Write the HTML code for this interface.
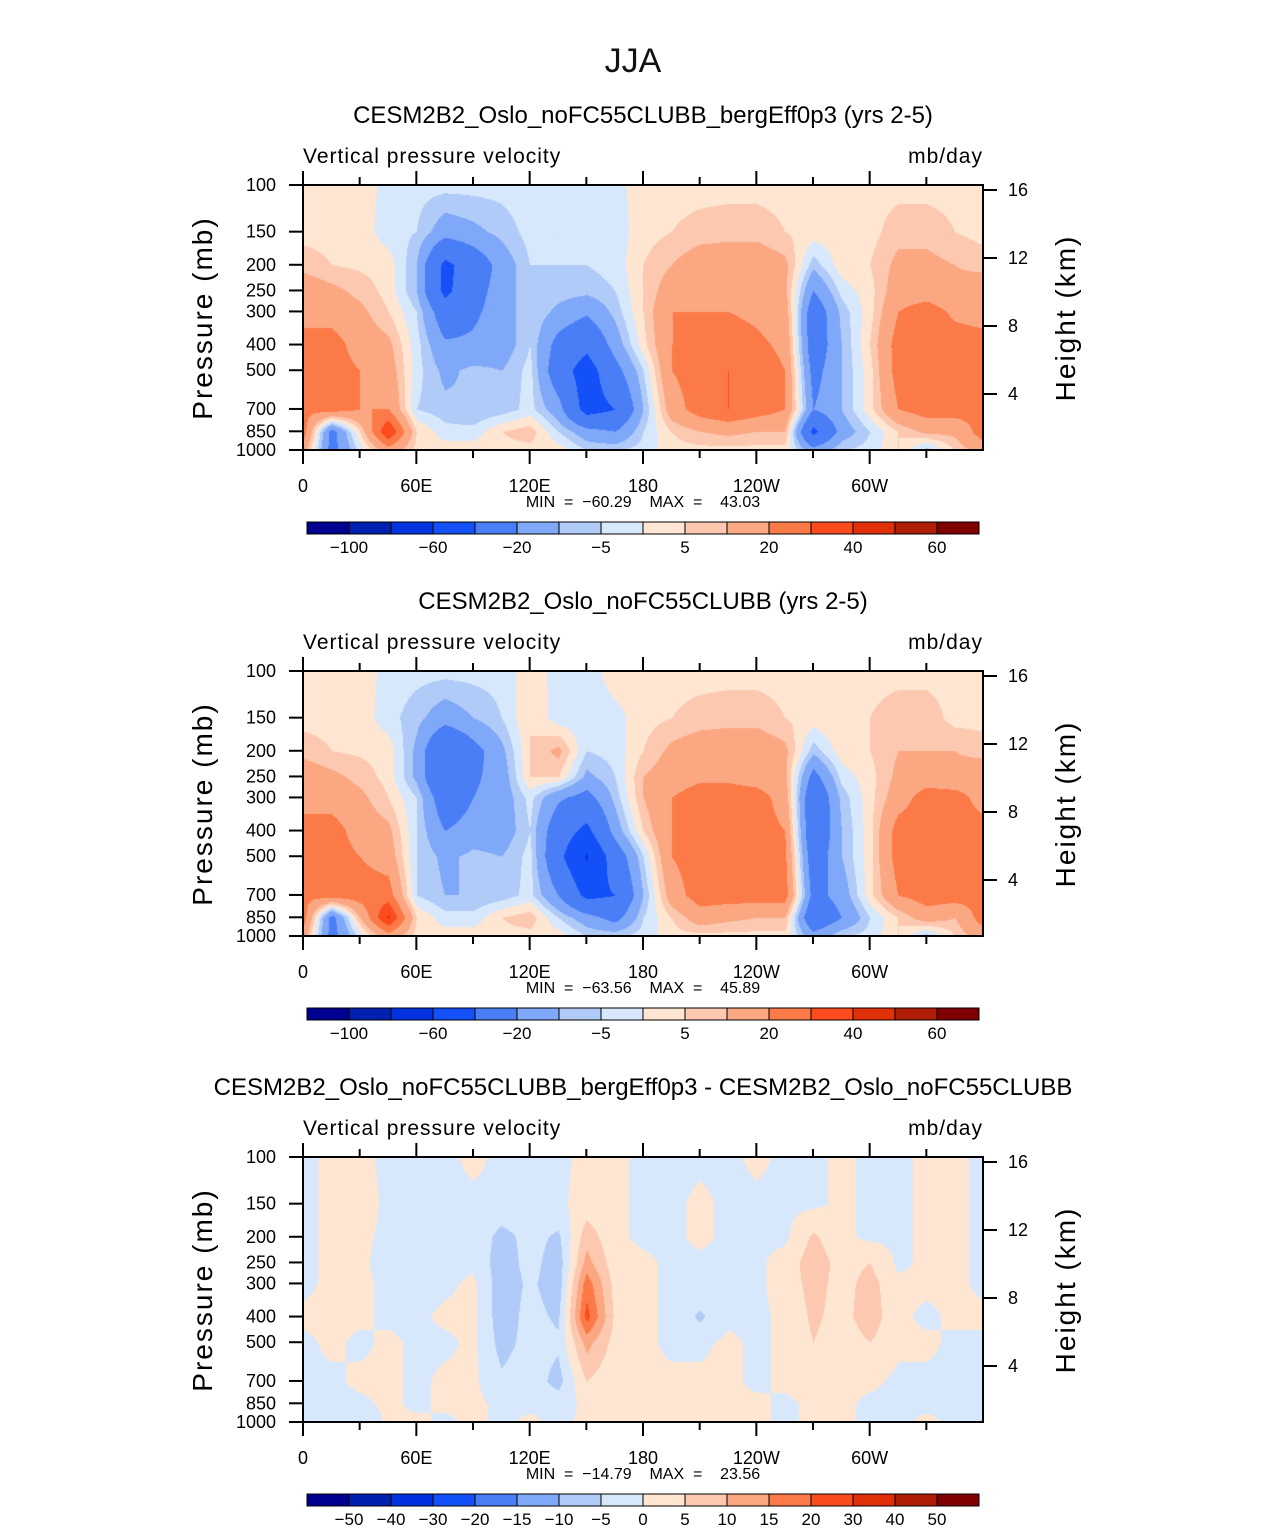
<!DOCTYPE html>
<html><head><meta charset="utf-8">
<style>
body{margin:0;background:#fff;width:1285px;height:1531px;position:relative;overflow:hidden;font-family:"Liberation Sans",sans-serif}
canvas{position:absolute}
svg{position:absolute;left:0;top:0}
text{white-space:pre}
</style></head>
<body>
<canvas id="c0" width="680" height="265" style="left:303px;top:185px"></canvas>
<canvas id="c1" width="680" height="265" style="left:303px;top:671px"></canvas>
<canvas id="c2" width="680" height="265" style="left:303px;top:1157px"></canvas>
<svg id="ov" width="1285" height="1531"></svg>
<script>
const lons=[0,15,30,45,60,75,90,105,120,135,150,165,180,195,210,225,240,255,270,285,300,315,330,345,360];
const levels=[100,150,200,250,300,400,500,700,850,1000];
const field1=[
[3,3,3,-2,-3,-3,-3,-3,-2,-3,-3,-2,3,3,3,3,3,3,3,3,3,3,3,3,3],
[3,3,3,-3,-5,-15,-12,-8,-3,-5,-4,-3,3,5,7,8,8,5,3,3,3,8,8,5,3],
[8,5,4,3,-10,-45,-30,-15,-5,-5,-5,-3,5,10,15,15,15,12,-8,3,5,12,12,10,8],
[15,12,8,3,-10,-45,-25,-15,-5,-7,-8,-5,5,15,18,18,15,12,-20,-3,3,15,15,12,15],
[15,15,12,5,-5,-30,-22,-15,-5,-12,-18,-8,5,20,20,20,18,15,-30,-8,3,20,25,18,15],
[25,25,15,12,-3,-18,-18,-15,-5,-25,-35,-15,3,20,20,25,22,18,-30,-10,5,25,25,25,25],
[25,25,20,15,-3,-12,-8,-10,-3,-30,-50,-25,-5,20,25,30,25,20,-25,-10,3,25,25,25,25],
[22,25,20,20,-5,-8,-10,-8,-3,-15,-48,-40,-10,15,25,30,25,20,-20,-10,3,20,25,25,22],
[25,-25,5,40,5,-3,-3,5,8,-5,-15,-20,-5,5,10,12,10,10,-45,-15,-5,5,12,12,25],
[15,-25,-3,15,3,3,3,3,3,3,-5,-5,-3,3,3,3,3,3,-15,-5,-3,5,-8,5,15]];
const field2=[
[3,3,3,-2,-3,-3,-3,-3,3,-2,-3,3,3,3,3,3,3,3,3,3,3,3,3,3,3],
[3,3,3,-3,-8,-15,-10,-5,5,-3,-3,-2,3,5,7,8,8,5,3,5,5,8,8,3,3],
[8,5,4,3,-12,-40,-25,-12,5,12,-5,-3,5,12,15,15,15,12,-8,3,5,10,10,10,8],
[15,12,8,3,-12,-40,-22,-15,5,5,-12,-5,10,15,18,18,15,12,-25,-3,3,12,15,12,15],
[15,15,12,5,-5,-30,-20,-15,-3,-18,-25,-8,10,20,25,25,25,15,-35,-8,3,15,25,25,15],
[25,25,15,12,-5,-20,-15,-15,-5,-30,-45,-15,5,20,25,25,25,20,-35,-10,3,25,25,25,25],
[25,25,20,15,-5,-12,-8,-10,-3,-35,-62,-30,-5,20,25,25,25,22,-30,-10,3,25,25,25,25],
[22,25,25,25,-5,-10,-10,-8,-3,-20,-45,-40,-10,15,25,25,25,25,-25,-15,3,20,25,25,22],
[25,-25,10,42,5,-3,-3,5,8,-5,-15,-25,-5,5,15,12,10,10,-35,-20,-5,5,15,10,25],
[15,-25,-3,15,3,3,3,3,3,3,-5,-5,-3,3,3,3,3,3,-15,-5,-3,5,-8,5,15]];
const field3=[
[-1,1,1,-1,-1,-1,1,-1,-1,-1,1,1,-1,-1,-1,-1,1,-1,-1,1,-1,-1,1,1,-1],
[-1,1,2,-1,-1,-1,-1,-1,-2,-1,2,1,-1,-1,1,-1,-1,-1,-1,1,-1,-1,1,1,-1],
[-1,1,1,-1,-2,-2,-1,-7,-3,-6,8,1,-1,-1,1,-1,-1,-1,6,1,-1,-1,1,1,-1],
[-1,1,1,-2,-4,-2,-1,-8,-3,-8,12,2,1,-1,-1,-1,-1,2,8,3,5,-1,1,1,-1],
[-1,1,1,-1,-2,-1,1,-8,-4,-8,18,3,1,-1,-1,-1,-1,2,7,3,7,1,1,1,-1],
[1,1,1,-1,-1,1,1,-8,-3,-6,22,4,1,-1,-6,-1,-1,1,6,3,8,1,-1,1,1],
[-1,1,-1,1,-1,-1,1,-7,-3,-4,12,3,1,-1,-1,1,-1,1,5,2,5,1,1,-1,-1],
[-1,-1,1,1,-1,1,1,-4,-2,-7,5,1,1,1,1,1,-1,1,3,1,1,-1,-1,-1,-1],
[-1,-1,-1,1,-1,1,1,-1,-1,-2,1,1,1,1,1,1,1,-1,1,1,-1,-1,-1,-1,-1],
[-1,-1,-4,1,1,-1,1,-1,1,-1,1,1,1,1,1,1,1,-1,1,1,-1,-1,1,-1,-1]];
const boundsA=[-100,-80,-60,-40,-20,-10,-5,0,5,10,20,30,40,50,60];
const labelsA=["−100","","−60","","−20","","−5","","5","","20","","40","","60"];
const boundsB=[-50,-40,-30,-20,-15,-10,-5,0,5,10,15,20,30,40,50];
const labelsB=["−50","−40","−30","−20","−15","−10","−5","0","5","10","15","20","30","40","50"];
const colors=["#000090","#0020b0","#0032e0","#1450f8","#4a7ef6","#80a8f8","#b0cbf8","#d8e8fc","#fee6d2","#fcc9b0","#fba882","#fc7a48","#fc4c1e","#e03008","#b01e08","#800000"];
const titles=["CESM2B2_Oslo_noFC55CLUBB_bergEff0p3 (yrs 2-5)","CESM2B2_Oslo_noFC55CLUBB (yrs 2-5)","CESM2B2_Oslo_noFC55CLUBB_bergEff0p3 - CESM2B2_Oslo_noFC55CLUBB"];
const minmax=[["−60.29","43.03"],["−63.56","45.89"],["−14.79","23.56"]];
const presTicks=[100,150,200,250,300,400,500,700,850,1000];
const hTicks=[16,12,8,4];
const lonTicks=[0,60,120,180,240,300];
const lonLabels=["0","60E","120E","180","120W","60W"];

const PX=303,PW=680,PH=265;
function xs(lon){return lon/360*PW;}
function ys(p){return (Math.log10(p)-2)*PH;}
function hY(km){return 209-(km-4)*17.0;}
function valAt(f,lon,p){
  let i=Math.min(Math.floor(lon/15),23),tx=(lon-lons[i])/15;
  let lp=Math.log10(p),j=0;
  while(j<levels.length-2&&Math.log10(levels[j+1])<lp)j++;
  let a=Math.log10(levels[j]),b=Math.log10(levels[j+1]);
  let ty=Math.max(0,Math.min(1,(lp-a)/(b-a)));
  let v0=f[j][i]*(1-tx)+f[j][i+1]*tx, v1=f[j+1][i]*(1-tx)+f[j+1][i+1]*tx;
  return v0*(1-ty)+v1*ty;
}
function colorIdx(v,b){let k=0;while(k<b.length&&v>=b[k])k++;return k;}
function hex(c){return [parseInt(c.substr(1,2),16),parseInt(c.substr(3,2),16),parseInt(c.substr(5,2),16)];}
const rgb=colors.map(hex);
[field1,field2,field3].forEach((f,n)=>{
  const cv=document.getElementById('c'+n),ctx=cv.getContext('2d');
  const img=ctx.createImageData(PW,PH),b=n<2?boundsA:boundsB;
  for(let y=0;y<PH;y++){const p=Math.pow(10,2+y/PH);
    for(let x=0;x<PW;x++){const v=valAt(f,x/PW*360,p);const c=rgb[colorIdx(v,b)];const o=(y*PW+x)*4;
      img.data[o]=c[0];img.data[o+1]=c[1];img.data[o+2]=c[2];img.data[o+3]=255;}}
  ctx.putImageData(img,0,0);
});
const svg=document.getElementById('ov'),NS="http://www.w3.org/2000/svg";
function el(tag,attrs,parent,text){const e=document.createElementNS(NS,tag);for(const k in attrs)e.setAttribute(k,attrs[k]);if(text!==undefined)e.textContent=text;(parent||svg).appendChild(e);return e;}
let t=el('text',{x:633,y:72,'text-anchor':'middle','font-size':34,fill:'#111'},svg,'JJA');


for(let n=0;n<3;n++){
  const T=185+n*486;
  const g=el('g',{});
  
  
  let e=el('text',{x:643,y:T-62,'text-anchor':'middle','font-size':24},g,titles[n]);
  
  
  e=el('text',{x:303,y:T-22,'font-size':21,'letter-spacing':1},g,'Vertical pressure velocity');
  
  
  e=el('text',{x:983,y:T-22,'text-anchor':'end','font-size':21,'letter-spacing':1},g,'mb/day');
  
  
  el('rect',{x:PX,y:T,width:PW,height:PH,fill:'none',stroke:'#000','stroke-width':2},g);
  presTicks.forEach(p=>{const y=T+ys(p);
    el('line',{x1:PX-14,x2:PX,y1:y,y2:y,stroke:'#000','stroke-width':2},g);
    e=el('text',{x:276,y:y+6,'text-anchor':'end','font-size':18},g,String(p));
    
    });
  hTicks.forEach(h=>{const y=T+hY(h);
    el('line',{x1:PX+PW,x2:PX+PW+14,y1:y,y2:y,stroke:'#000','stroke-width':2},g);
    e=el('text',{x:1008,y:y+6,'font-size':18},g,String(h));
    
    });
  for(let lon=0;lon<360;lon+=30){const x=PX+xs(lon),maj=lon%60==0,L=maj?14:8;
    el('line',{x1:x,x2:x,y1:T+PH,y2:T+PH+L,stroke:'#000','stroke-width':2},g);
    el('line',{x1:x,x2:x,y1:T,y2:T-L,stroke:'#000','stroke-width':2},g);}
  lonTicks.forEach((lon,i)=>{e=el('text',{x:PX+xs(lon),y:T+PH+42,'text-anchor':'middle','font-size':18},g,lonLabels[i]);
    
    });
  e=el('text',{x:643,y:T+PH+57,'text-anchor':'middle','font-size':16},g,'MIN  =  '+minmax[n][0]+'    MAX  =    '+minmax[n][1]);
  
  
  e=el('text',{x:0,y:0,'text-anchor':'middle','font-size':28,'letter-spacing':2,transform:`translate(212,${T+133}) rotate(-90)`},g,'Pressure (mb)');
  
  
  e=el('text',{x:0,y:0,'text-anchor':'middle','font-size':28,'letter-spacing':2,transform:`translate(1075,${T+133}) rotate(-90)`},g,'Height (km)');
  
  
  const CB=T+337,bx=307,bw=42;
  const cb=el('g',{},g);
  
  
  colors.forEach((c,i)=>{const r=el('rect',{x:bx+i*bw,y:CB,width:bw,height:12,fill:c,stroke:'#000','stroke-width':1},cb);
    
    });
  const labs=n<2?labelsA:labelsB;
  labs.forEach((l,i)=>{if(!l)return;e=el('text',{x:bx+(i+1)*bw,y:CB+31,'text-anchor':'middle','font-size':17},cb,l);
    
    });
}
</script>
</body></html>
